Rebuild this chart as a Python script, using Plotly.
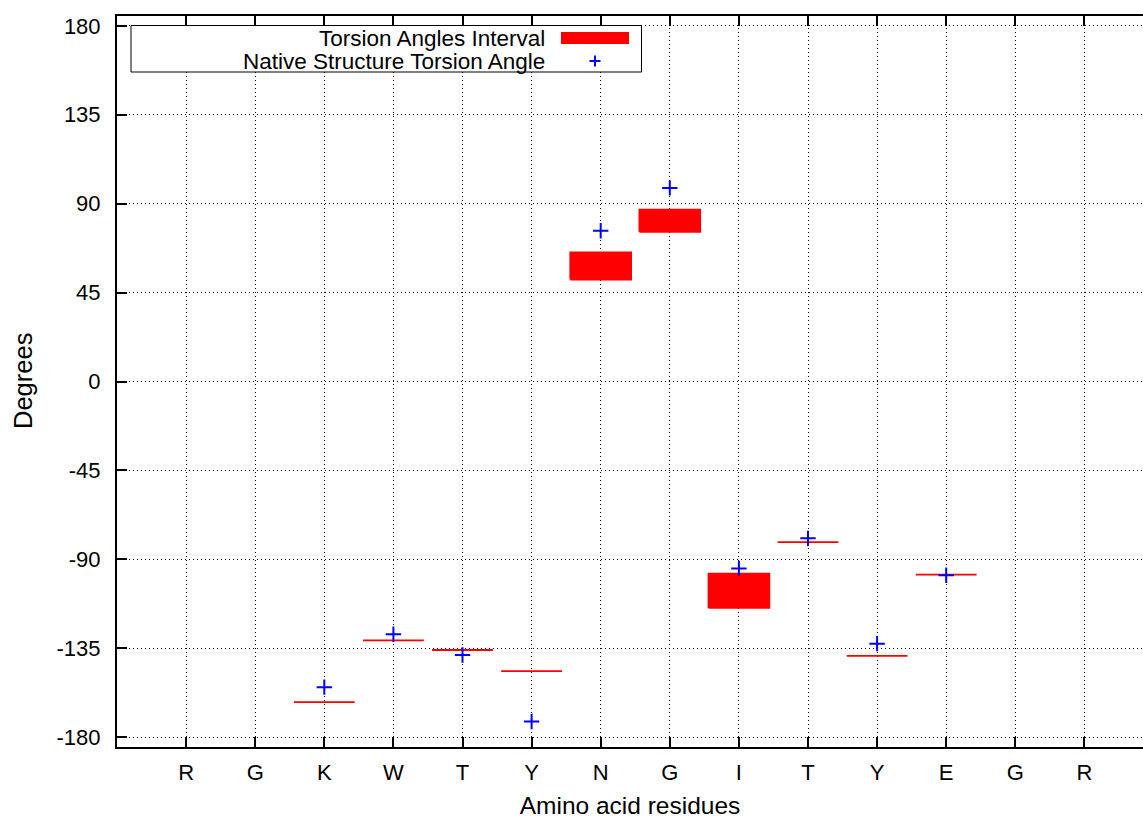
import plotly.graph_objects as go

# Residue sequence along the x axis (positions 1..14)
residues = ["R", "G", "K", "W", "T", "Y", "N", "G", "I", "T", "Y", "E", "G", "R"]

# Torsion angle intervals (degrees) and native structure angles
interval_pos = [3, 4, 5, 6, 7, 8, 9, 10, 11, 12]
interval_low = [-162.3, -131.0, -135.9, -146.6, 51.6, 75.8, -114.6, -81.3, -138.9, -97.8]
interval_high = [-162.3, -131.0, -135.9, -146.6, 65.4, 87.0, -97.3, -81.3, -138.9, -97.8]
native_angle = [-154.7, -127.9, -138.4, -172.1, 76.3, 98.0, -94.6, -79.4, -132.7, -98.1]

y_ticks = [-180, -135, -90, -45, 0, 45, 90, 135, 180]

W, H = 1143, 819
ML, MR, MT, MB = 117, 0, 16, 72
PW, PH = W - ML - MR, H - MT - MB
UNIT = 69.1  # pixels per residue slot
BOX_HALF = 0.44

FONT = "Liberation Sans, Arial, Helvetica, sans-serif"

# Build interval boxes as closed polygons
bx, by = [], []
for p, lo, hi in zip(interval_pos, interval_low, interval_high):
    bx += [p - BOX_HALF, p + BOX_HALF, p + BOX_HALF, p - BOX_HALF, p - BOX_HALF, None]
    by += [lo, lo, hi, hi, lo, None]

fig = go.Figure()
fig.add_trace(go.Scatter(
    x=bx, y=by, mode="lines", fill="toself",
    fillcolor="#ff0000", line=dict(color="#ff0000", width=1.8),
    showlegend=False, hoverinfo="skip",
))
fig.add_trace(go.Scatter(
    x=interval_pos, y=native_angle, mode="markers",
    marker=dict(symbol="cross-thin", size=11, line=dict(color="#0000ff", width=2)),
    showlegend=False,
))


def px(xp):
    return (xp - ML) / PW


def py(yp):
    return (H - MB - yp) / PH


shapes = []
annotations = []

# Key box in the upper left corner
shapes.append(dict(type="rect", xref="paper", yref="paper",
                   x0=px(131), x1=px(641.5), y0=py(72), y1=py(25.5),
                   line=dict(color="black", width=1), fillcolor="white", layer="above"))
shapes.append(dict(type="rect", xref="paper", yref="paper",
                   x0=px(561), x1=px(629), y0=py(44), y1=py(32),
                   line=dict(width=0), fillcolor="#ff0000", layer="above"))
shapes.append(dict(type="line", xref="paper", yref="paper",
                   x0=px(589.5), x1=px(600.5), y0=py(61), y1=py(61),
                   line=dict(color="#0000ff", width=2), layer="above"))
shapes.append(dict(type="line", xref="paper", yref="paper",
                   x0=px(595), x1=px(595), y0=py(55.5), y1=py(66.5),
                   line=dict(color="#0000ff", width=2), layer="above"))
annotations.append(dict(text="Torsion Angles Interval", xref="paper", yref="paper",
                        x=px(547), y=py(38.5), xanchor="right", yanchor="middle",
                        showarrow=False, font=dict(family=FONT, size=22.5, color="black")))
annotations.append(dict(text="Native Structure Torsion Angle", xref="paper", yref="paper",
                        x=px(547), y=py(61.5), xanchor="right", yanchor="middle",
                        showarrow=False, font=dict(family=FONT, size=22.5, color="black")))

# Y axis title, set vertically against the left edge
annotations.append(dict(text="Degrees", xref="paper", yref="paper",
                        x=px(23), y=py(381), xanchor="center", yanchor="middle",
                        textangle=-90, showarrow=False,
                        font=dict(family=FONT, size=25.5, color="black")))

GRID_DASH = "1px,3px"

fig.update_layout(
    width=W, height=H,
    margin=dict(l=ML, r=MR, t=MT, b=MB, pad=0),
    paper_bgcolor="white", plot_bgcolor="white",
    font=dict(family=FONT, size=22, color="black"),
    showlegend=False,
    shapes=shapes, annotations=annotations,
    xaxis=dict(
        range=[0, PW / UNIT],
        tickmode="array", tickvals=list(range(1, len(residues) + 1)), ticktext=residues,
        tickfont=dict(size=22),
        ticks="inside", ticklen=10, tickwidth=2, tickcolor="black",
        showline=True, linewidth=2, linecolor="black", mirror="ticks",
        showgrid=True, gridcolor="black", gridwidth=1, griddash=GRID_DASH,
        zeroline=False, ticklabelstandoff=5,
        title=dict(text="Amino acid residues", font=dict(size=24.5), standoff=16),
    ),
    yaxis=dict(
        range=[-185, 185],
        tickmode="array", tickvals=y_ticks, ticktext=[str(v) for v in y_ticks],
        tickfont=dict(size=22),
        ticks="inside", ticklen=10, tickwidth=2, tickcolor="black",
        showline=True, linewidth=2, linecolor="black", mirror=False,
        showgrid=True, gridcolor="black", gridwidth=1, griddash=GRID_DASH,
        zeroline=False, ticklabelstandoff=10,
    ),
)

fig.write_html("out.html")
